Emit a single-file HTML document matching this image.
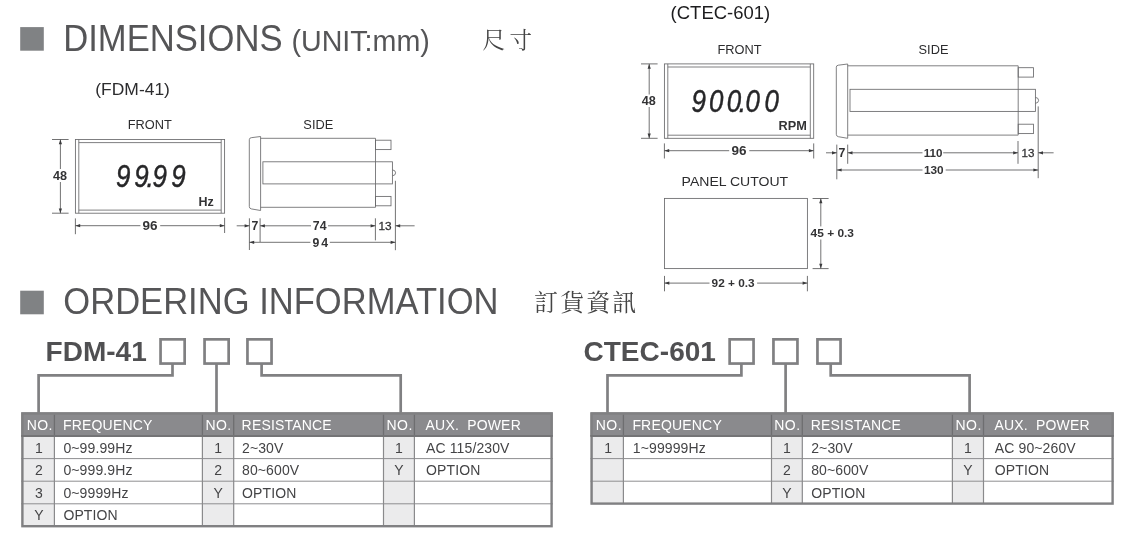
<!DOCTYPE html>
<html lang="zh-Hant"><head><meta charset="utf-8"><title>Dimensions / Ordering Information</title>
<style>
html,body{margin:0;padding:0;background:#fff;}
body{width:1137px;height:544px;overflow:hidden;position:relative;}
svg{position:absolute;left:0;top:0;display:block;font-family:"Liberation Sans", sans-serif;will-change:transform;}
</style></head><body>
<svg width="1137" height="544" viewBox="0 0 1137 544">
<rect x="20.2" y="27.1" width="23.6" height="23.6"  fill="#808284" />
<text x="63.2" y="50.6" font-size="36" fill="#555557" textLength="219.3" lengthAdjust="spacingAndGlyphs">DIMENSIONS</text>
<text x="291.4" y="50.5" font-size="29" fill="#555557" textLength="138.5" lengthAdjust="spacingAndGlyphs">(UNIT:mm)</text>
<text x="482.6" y="48" font-size="22.5" fill="#444" font-family='"Liberation Serif", "Noto Serif CJK SC", serif' letter-spacing="4.5">尺寸</text>
<rect x="20.2" y="290.7" width="23.6" height="23.6"  fill="#808284" />
<text x="63.3" y="313.8" font-size="36" fill="#555557" textLength="435.2" lengthAdjust="spacingAndGlyphs">ORDERING INFORMATION</text>
<text x="534" y="310.6" font-size="24" fill="#444" font-family='"Liberation Serif", "Noto Serif CJK SC", serif' letter-spacing="2.1">訂貨資訊</text>
<text x="95.3" y="95.4" font-size="16.3" fill="#2c2c2e" textLength="74.6" lengthAdjust="spacingAndGlyphs">(FDM-41)</text>
<text x="149.8" y="129" font-size="12.8" text-anchor="middle" fill="#2c2c2e">FRONT</text>
<text x="318.3" y="129" font-size="12.8" text-anchor="middle" fill="#2c2c2e">SIDE</text>
<rect x="75.4" y="139.5" width="149.2" height="73.7" stroke="#69696b" stroke-width="0.85" fill="none" />
<line x1="78.8" y1="139.5" x2="78.8" y2="213.2" stroke="#69696b" stroke-width="0.85" />
<line x1="221.2" y1="139.5" x2="221.2" y2="213.2" stroke="#69696b" stroke-width="0.85" />
<line x1="78.8" y1="142.6" x2="221.2" y2="142.6" stroke="#69696b" stroke-width="0.85" />
<line x1="78.8" y1="210.1" x2="221.2" y2="210.1" stroke="#69696b" stroke-width="0.85" />
<text transform="translate(116,187.2) scale(0.85,1)" x="0 21.53 36 43.06 65.06" y="0" font-size="30.5" font-style="italic" fill="#262628" stroke="#262628" stroke-width="0.45">99.99</text>
<text x="213.8" y="206.1" font-size="12.5" text-anchor="end" font-weight="bold" fill="#333335">Hz</text>
<line x1="52" y1="139.5" x2="68.6" y2="139.5" stroke="#58585a" stroke-width="0.85" />
<line x1="52" y1="213.2" x2="68.6" y2="213.2" stroke="#58585a" stroke-width="0.85" />
<line x1="60.4" y1="139.5" x2="60.4" y2="169" stroke="#58585a" stroke-width="0.85" />
<line x1="60.4" y1="182" x2="60.4" y2="213.2" stroke="#58585a" stroke-width="0.85" />
<polygon points="60.4,139.5 58.8,144.3 62,144.3" fill="#3a3a3c"/>
<polygon points="60.4,213.2 58.8,208.4 62,208.4" fill="#3a3a3c"/>
<text x="60.1" y="179.9" font-size="12.6" text-anchor="middle" font-weight="bold" fill="#333335">48</text>
<line x1="75.4" y1="218.4" x2="75.4" y2="234.2" stroke="#58585a" stroke-width="0.85" />
<line x1="224.6" y1="217.8" x2="224.6" y2="233" stroke="#58585a" stroke-width="0.85" />
<line x1="75.4" y1="225.7" x2="140.4" y2="225.7" stroke="#58585a" stroke-width="0.85" />
<line x1="160.2" y1="225.7" x2="224.6" y2="225.7" stroke="#58585a" stroke-width="0.85" />
<polygon points="75.4,225.7 80.2,224.1 80.2,227.3" fill="#3a3a3c"/>
<polygon points="224.6,225.7 219.8,224.1 219.8,227.3" fill="#3a3a3c"/>
<text x="150.1" y="230.4" font-size="13.5" text-anchor="middle" font-weight="bold" fill="#333335">96</text>
<path d="M251.3,137.7 L260.6,136.5 L260.6,210.5 L251.3,208.9 Q249.3,208.5 249.3,206.5 L249.3,139.7 Q249.3,137.9 251.3,137.7 Z" fill="none" stroke="#69696b" stroke-width="0.85"/>
<line x1="260.6" y1="138.3" x2="375.5" y2="138.3" stroke="#69696b" stroke-width="0.85" />
<line x1="260.6" y1="207.3" x2="375.5" y2="207.3" stroke="#69696b" stroke-width="0.85" />
<line x1="375.5" y1="138.3" x2="375.5" y2="207.3" stroke="#69696b" stroke-width="0.85" />
<rect x="375.5" y="140.2" width="15.5" height="9.4" stroke="#69696b" stroke-width="0.85" fill="none" />
<rect x="375.5" y="196.4" width="15.5" height="9.4" stroke="#69696b" stroke-width="0.85" fill="none" />
<rect x="262.9" y="161.8" width="129.5" height="22.1" stroke="#69696b" stroke-width="0.85" fill="none" />
<path d="M392.4,169.85 q3.2,0.4 3.2,3 q0,2.6 -3.2,3" fill="none" stroke="#69696b" stroke-width="0.85"/>
<line x1="395.4" y1="180.8" x2="395.4" y2="250.2" stroke="#58585a" stroke-width="0.85" />
<line x1="249.4" y1="218.3" x2="249.4" y2="250" stroke="#58585a" stroke-width="0.85" />
<line x1="260.1" y1="218.3" x2="260.1" y2="242" stroke="#58585a" stroke-width="0.85" />
<line x1="375.4" y1="218.3" x2="375.4" y2="240.4" stroke="#58585a" stroke-width="0.85" />
<line x1="236.7" y1="225.8" x2="249.4" y2="225.8" stroke="#58585a" stroke-width="0.85" />
<polygon points="249.4,225.8 244.6,224.2 244.6,227.4" fill="#3a3a3c"/>
<text x="254.9" y="229.6" font-size="12.3" text-anchor="middle" font-weight="bold" fill="#333335">7</text>
<line x1="260.1" y1="225.8" x2="311" y2="225.8" stroke="#58585a" stroke-width="0.85" />
<line x1="328" y1="225.8" x2="375.4" y2="225.8" stroke="#58585a" stroke-width="0.85" />
<polygon points="260.1,225.8 264.9,224.2 264.9,227.4" fill="#3a3a3c"/>
<polygon points="375.4,225.8 370.6,224.2 370.6,227.4" fill="#3a3a3c"/>
<text x="319.7" y="229.8" font-size="12.3" text-anchor="middle" font-weight="bold" fill="#333335">74</text>
<text x="385.1" y="230.1" font-size="11.8" text-anchor="middle" fill="#333335" stroke="#333335" stroke-width="0.3">13</text>
<line x1="395.4" y1="225.8" x2="414.6" y2="225.8" stroke="#58585a" stroke-width="0.85" />
<polygon points="395.4,225.8 400.2,224.2 400.2,227.4" fill="#3a3a3c"/>
<line x1="249.4" y1="242.3" x2="310.4" y2="242.3" stroke="#58585a" stroke-width="0.85" />
<line x1="329.8" y1="242.3" x2="395.4" y2="242.3" stroke="#58585a" stroke-width="0.85" />
<polygon points="249.4,242.3 254.2,240.7 254.2,243.9" fill="#3a3a3c"/>
<polygon points="395.4,242.3 390.6,240.7 390.6,243.9" fill="#3a3a3c"/>
<text x="321.3" y="246.8" font-size="12.3" text-anchor="middle" font-weight="bold" fill="#333335" letter-spacing="2">94</text>
<text x="670.6" y="19.1" font-size="18" fill="#1c1c1e" textLength="99.6" lengthAdjust="spacingAndGlyphs">(CTEC-601)</text>
<text x="739.5" y="53.7" font-size="12.8" text-anchor="middle" fill="#2c2c2e">FRONT</text>
<text x="933.5" y="53.7" font-size="12.8" text-anchor="middle" fill="#2c2c2e">SIDE</text>
<rect x="664.4" y="63.9" width="149.3" height="74.4" stroke="#69696b" stroke-width="0.85" fill="none" />
<line x1="667.8" y1="63.9" x2="667.8" y2="138.3" stroke="#69696b" stroke-width="0.85" />
<line x1="810.3" y1="63.9" x2="810.3" y2="138.3" stroke="#69696b" stroke-width="0.85" />
<line x1="667.8" y1="67" x2="810.3" y2="67" stroke="#69696b" stroke-width="0.85" />
<line x1="667.8" y1="135.2" x2="810.3" y2="135.2" stroke="#69696b" stroke-width="0.85" />
<text transform="translate(691.5,112.2) scale(0.85,1)" x="0 20.59 41.41 55.65 63.65 85.88" y="0" font-size="30.5" font-style="italic" fill="#262628" stroke="#262628" stroke-width="0.45">900.00</text>
<text x="806.9" y="129.7" font-size="12.5" text-anchor="end" font-weight="bold" fill="#333335" textLength="28.3" lengthAdjust="spacingAndGlyphs">RPM</text>
<line x1="641" y1="63.9" x2="657.6" y2="63.9" stroke="#58585a" stroke-width="0.85" />
<line x1="641" y1="138.3" x2="657.6" y2="138.3" stroke="#58585a" stroke-width="0.85" />
<line x1="649.2" y1="63.9" x2="649.2" y2="94.5" stroke="#58585a" stroke-width="0.85" />
<line x1="649.2" y1="107" x2="649.2" y2="138.3" stroke="#58585a" stroke-width="0.85" />
<polygon points="649.2,63.9 647.6,68.7 650.8,68.7" fill="#3a3a3c"/>
<polygon points="649.2,138.3 647.6,133.5 650.8,133.5" fill="#3a3a3c"/>
<text x="648.8" y="105.1" font-size="12.6" text-anchor="middle" font-weight="bold" fill="#333335">48</text>
<line x1="664.4" y1="143.4" x2="664.4" y2="158.5" stroke="#58585a" stroke-width="0.85" />
<line x1="813.7" y1="143.4" x2="813.7" y2="158.5" stroke="#58585a" stroke-width="0.85" />
<line x1="664.4" y1="150.7" x2="729.2" y2="150.7" stroke="#58585a" stroke-width="0.85" />
<line x1="749.3" y1="150.7" x2="813.7" y2="150.7" stroke="#58585a" stroke-width="0.85" />
<polygon points="664.4,150.7 669.2,149.1 669.2,152.3" fill="#3a3a3c"/>
<polygon points="813.7,150.7 808.9,149.1 808.9,152.3" fill="#3a3a3c"/>
<text x="739" y="155.4" font-size="13.5" text-anchor="middle" font-weight="bold" fill="#333335">96</text>
<path d="M838.3,65.2 L847.7,64 L847.7,138.3 L838.3,136.7 Q836.3,136.3 836.3,134.3 L836.3,67.2 Q836.3,65.4 838.3,65.2 Z" fill="none" stroke="#69696b" stroke-width="0.85"/>
<line x1="847.7" y1="65.8" x2="1018.2" y2="65.8" stroke="#69696b" stroke-width="0.85" />
<line x1="847.7" y1="135.1" x2="1018.2" y2="135.1" stroke="#69696b" stroke-width="0.85" />
<line x1="1018.2" y1="65.8" x2="1018.2" y2="135.1" stroke="#69696b" stroke-width="0.85" />
<rect x="1018.2" y="67.7" width="15.3" height="9.4" stroke="#69696b" stroke-width="0.85" fill="none" />
<rect x="1018.2" y="124.2" width="15.3" height="9.4" stroke="#69696b" stroke-width="0.85" fill="none" />
<rect x="850" y="89.3" width="185.4" height="22.1" stroke="#69696b" stroke-width="0.85" fill="none" />
<path d="M1035.4,97.35 q3.2,0.4 3.2,3 q0,2.6 -3.2,3" fill="none" stroke="#69696b" stroke-width="0.85"/>
<line x1="1038.2" y1="106.4" x2="1038.2" y2="178.2" stroke="#58585a" stroke-width="0.85" />
<line x1="836.8" y1="144.6" x2="836.8" y2="179.3" stroke="#58585a" stroke-width="0.85" />
<line x1="847.7" y1="144.6" x2="847.7" y2="163.8" stroke="#58585a" stroke-width="0.85" />
<line x1="1018" y1="141" x2="1018" y2="163.8" stroke="#58585a" stroke-width="0.85" />
<line x1="826" y1="152.8" x2="836.8" y2="152.8" stroke="#58585a" stroke-width="0.85" />
<polygon points="836.8,152.8 832,151.2 832,154.4" fill="#3a3a3c"/>
<text x="842" y="156.7" font-size="12.3" text-anchor="middle" font-weight="bold" fill="#333335">7</text>
<line x1="847.7" y1="152.8" x2="922.5" y2="152.8" stroke="#58585a" stroke-width="0.85" />
<line x1="943.2" y1="152.8" x2="1018" y2="152.8" stroke="#58585a" stroke-width="0.85" />
<polygon points="847.7,152.8 852.5,151.2 852.5,154.4" fill="#3a3a3c"/>
<polygon points="1018,152.8 1013.2,151.2 1013.2,154.4" fill="#3a3a3c"/>
<text x="933" y="156.7" font-size="11.6" text-anchor="middle" font-weight="bold" fill="#333335">110</text>
<text x="1028" y="156.7" font-size="11.6" text-anchor="middle" fill="#333335" stroke="#333335" stroke-width="0.3">13</text>
<line x1="1038.2" y1="152.8" x2="1053.6" y2="152.8" stroke="#58585a" stroke-width="0.85" />
<polygon points="1038.2,152.8 1043,151.2 1043,154.4" fill="#3a3a3c"/>
<line x1="836.8" y1="170" x2="922.5" y2="170" stroke="#58585a" stroke-width="0.85" />
<line x1="945.7" y1="170" x2="1038.2" y2="170" stroke="#58585a" stroke-width="0.85" />
<polygon points="836.8,170 841.6,168.4 841.6,171.6" fill="#3a3a3c"/>
<polygon points="1038.2,170 1033.4,168.4 1033.4,171.6" fill="#3a3a3c"/>
<text x="933.8" y="174.2" font-size="11.8" text-anchor="middle" font-weight="bold" fill="#333335">130</text>
<text x="734.9" y="186.3" font-size="13.2" text-anchor="middle" fill="#2c2c2e" textLength="106.6" lengthAdjust="spacingAndGlyphs">PANEL CUTOUT</text>
<rect x="664.5" y="198.4" width="142.9" height="70.2" stroke="#69696b" stroke-width="0.85" fill="none" />
<line x1="812.6" y1="198.5" x2="828.6" y2="198.5" stroke="#58585a" stroke-width="0.85" />
<line x1="812.6" y1="268.6" x2="828.6" y2="268.6" stroke="#58585a" stroke-width="0.85" />
<line x1="820.8" y1="198.5" x2="820.8" y2="226.4" stroke="#58585a" stroke-width="0.85" />
<line x1="820.8" y1="239.5" x2="820.8" y2="268.6" stroke="#58585a" stroke-width="0.85" />
<polygon points="820.8,198.5 819.2,203.3 822.4,203.3" fill="#3a3a3c"/>
<polygon points="820.8,268.6 819.2,263.8 822.4,263.8" fill="#3a3a3c"/>
<text x="810.6" y="237.1" font-size="11.8" font-weight="bold" fill="#333335" textLength="43.4" lengthAdjust="spacingAndGlyphs">45 + 0.3</text>
<line x1="664.5" y1="275.9" x2="664.5" y2="291.3" stroke="#58585a" stroke-width="0.85" />
<line x1="807.4" y1="275.9" x2="807.4" y2="291.3" stroke="#58585a" stroke-width="0.85" />
<line x1="664.5" y1="283.1" x2="709.5" y2="283.1" stroke="#58585a" stroke-width="0.85" />
<line x1="757.1" y1="283.1" x2="807.4" y2="283.1" stroke="#58585a" stroke-width="0.85" />
<polygon points="664.5,283.1 669.3,281.5 669.3,284.7" fill="#3a3a3c"/>
<polygon points="807.4,283.1 802.6,281.5 802.6,284.7" fill="#3a3a3c"/>
<text x="711.6" y="287.3" font-size="11.8" font-weight="bold" fill="#333335" textLength="43" lengthAdjust="spacingAndGlyphs">92 + 0.3</text>
<text x="45.6" y="361.1" font-size="28" font-weight="bold" fill="#505052" textLength="101.2" lengthAdjust="spacingAndGlyphs">FDM-41</text>
<rect x="160.55" y="339.35" width="24.1" height="24.2" stroke="#808082" stroke-width="2.7" fill="none" />
<rect x="204.55" y="339.35" width="24.1" height="24.2" stroke="#808082" stroke-width="2.7" fill="none" />
<rect x="247.45" y="339.35" width="24.1" height="24.2" stroke="#808082" stroke-width="2.7" fill="none" />
<polyline points="172.5,364 172.5,375.4 38.6,375.4 38.6,413.3" fill="none" stroke="#808082" stroke-width="2.7"/>
<polyline points="216.5,364 216.5,413.3" fill="none" stroke="#808082" stroke-width="2.7"/>
<polyline points="261.6,364 261.6,375.4 400.7,375.4 400.7,413.3" fill="none" stroke="#808082" stroke-width="2.7"/>
<rect x="21.2" y="412.3" width="531.6" height="23.7"  fill="#8a8a8d" />
<rect x="21.2" y="436" width="33.2" height="90.4"  fill="#ebebec" />
<rect x="202.4" y="436" width="31.3" height="90.4"  fill="#ebebec" />
<rect x="383.5" y="436" width="30.9" height="90.4"  fill="#ebebec" />
<line x1="21.2" y1="458.6" x2="552.8" y2="458.6" stroke="#8e8e90" stroke-width="1" />
<line x1="21.2" y1="481.2" x2="552.8" y2="481.2" stroke="#8e8e90" stroke-width="1" />
<line x1="21.2" y1="503.8" x2="552.8" y2="503.8" stroke="#8e8e90" stroke-width="1" />
<line x1="54.4" y1="436" x2="54.4" y2="525.9" stroke="#8a8a8c" stroke-width="1.2" />
<line x1="54.4" y1="414.3" x2="54.4" y2="436" stroke="#6e6e70" stroke-width="1.3" />
<line x1="202.4" y1="436" x2="202.4" y2="525.9" stroke="#8a8a8c" stroke-width="1.2" />
<line x1="202.4" y1="414.3" x2="202.4" y2="436" stroke="#6e6e70" stroke-width="1.3" />
<line x1="233.7" y1="436" x2="233.7" y2="525.9" stroke="#8a8a8c" stroke-width="1.2" />
<line x1="233.7" y1="414.3" x2="233.7" y2="436" stroke="#6e6e70" stroke-width="1.3" />
<line x1="383.5" y1="436" x2="383.5" y2="525.9" stroke="#8a8a8c" stroke-width="1.2" />
<line x1="383.5" y1="414.3" x2="383.5" y2="436" stroke="#6e6e70" stroke-width="1.3" />
<line x1="414.4" y1="436" x2="414.4" y2="525.9" stroke="#8a8a8c" stroke-width="1.2" />
<line x1="414.4" y1="414.3" x2="414.4" y2="436" stroke="#6e6e70" stroke-width="1.3" />
<rect x="22.4" y="413.5" width="529.2" height="112.7" stroke="#808082" stroke-width="2.4" fill="none" />
<line x1="21.2" y1="436" x2="552.8" y2="436" stroke="#747476" stroke-width="2" />
<text x="39.8" y="429.9" font-size="14" text-anchor="middle" fill="#fff" letter-spacing="0.45">NO.</text>
<text x="63" y="429.9" font-size="14" fill="#fff" xml:space="preserve" letter-spacing="0.18">FREQUENCY</text>
<text x="218.55" y="429.9" font-size="14" text-anchor="middle" fill="#fff" letter-spacing="0.45">NO.</text>
<text x="241.6" y="429.9" font-size="14" fill="#fff" xml:space="preserve" letter-spacing="0.18">RESISTANCE</text>
<text x="399.7" y="429.9" font-size="14" text-anchor="middle" fill="#fff" letter-spacing="0.45">NO.</text>
<text x="425.6" y="429.9" font-size="14" fill="#fff" xml:space="preserve" letter-spacing="0.18">AUX.  POWER</text>
<text x="39" y="452.6" font-size="14" text-anchor="middle" fill="#444446">1</text>
<text x="63.4" y="452.6" font-size="14" fill="#444446" letter-spacing="0.12">0~99.99Hz</text>
<text x="218.15" y="452.6" font-size="14" text-anchor="middle" fill="#444446">1</text>
<text x="242" y="452.6" font-size="14" fill="#444446" letter-spacing="0.12">2~30V</text>
<text x="398.85" y="452.6" font-size="14" text-anchor="middle" fill="#444446">1</text>
<text x="426" y="452.6" font-size="14" fill="#444446" letter-spacing="0.12">AC 115/230V</text>
<text x="39" y="475.2" font-size="14" text-anchor="middle" fill="#444446">2</text>
<text x="63.4" y="475.2" font-size="14" fill="#444446" letter-spacing="0.12">0~999.9Hz</text>
<text x="218.15" y="475.2" font-size="14" text-anchor="middle" fill="#444446">2</text>
<text x="242" y="475.2" font-size="14" fill="#444446" letter-spacing="0.12">80~600V</text>
<text x="398.85" y="475.2" font-size="14" text-anchor="middle" fill="#444446">Y</text>
<text x="426" y="475.2" font-size="14" fill="#444446" letter-spacing="0.12">OPTION</text>
<text x="39" y="497.8" font-size="14" text-anchor="middle" fill="#444446">3</text>
<text x="63.4" y="497.8" font-size="14" fill="#444446" letter-spacing="0.12">0~9999Hz</text>
<text x="218.15" y="497.8" font-size="14" text-anchor="middle" fill="#444446">Y</text>
<text x="242" y="497.8" font-size="14" fill="#444446" letter-spacing="0.12">OPTION</text>
<text x="39" y="520.4" font-size="14" text-anchor="middle" fill="#444446">Y</text>
<text x="63.4" y="520.4" font-size="14" fill="#444446" letter-spacing="0.12">OPTION</text>
<text x="583.5" y="361.1" font-size="28" font-weight="bold" fill="#505052" textLength="132.4" lengthAdjust="spacingAndGlyphs">CTEC-601</text>
<rect x="729.65" y="339.35" width="23.9" height="24.2" stroke="#808082" stroke-width="2.7" fill="none" />
<rect x="773.45" y="339.35" width="24" height="24.2" stroke="#808082" stroke-width="2.7" fill="none" />
<rect x="817.45" y="339.35" width="23.1" height="24.2" stroke="#808082" stroke-width="2.7" fill="none" />
<polyline points="741.4,364 741.4,375.4 607.5,375.4 607.5,413.3" fill="none" stroke="#808082" stroke-width="2.7"/>
<polyline points="785.6,364 785.6,413.3" fill="none" stroke="#808082" stroke-width="2.7"/>
<polyline points="830.7,364 830.7,375.4 969.6,375.4 969.6,413.3" fill="none" stroke="#808082" stroke-width="2.7"/>
<rect x="590.4" y="412.3" width="523.4" height="23.7"  fill="#8a8a8d" />
<rect x="590.4" y="436" width="33" height="67.8"  fill="#ebebec" />
<rect x="771.5" y="436" width="30.8" height="67.8"  fill="#ebebec" />
<rect x="952.4" y="436" width="31.1" height="67.8"  fill="#ebebec" />
<line x1="590.4" y1="458.6" x2="1113.8" y2="458.6" stroke="#8e8e90" stroke-width="1" />
<line x1="590.4" y1="481.2" x2="1113.8" y2="481.2" stroke="#8e8e90" stroke-width="1" />
<line x1="623.4" y1="436" x2="623.4" y2="503.3" stroke="#8a8a8c" stroke-width="1.2" />
<line x1="623.4" y1="414.3" x2="623.4" y2="436" stroke="#6e6e70" stroke-width="1.3" />
<line x1="771.5" y1="436" x2="771.5" y2="503.3" stroke="#8a8a8c" stroke-width="1.2" />
<line x1="771.5" y1="414.3" x2="771.5" y2="436" stroke="#6e6e70" stroke-width="1.3" />
<line x1="802.3" y1="436" x2="802.3" y2="503.3" stroke="#8a8a8c" stroke-width="1.2" />
<line x1="802.3" y1="414.3" x2="802.3" y2="436" stroke="#6e6e70" stroke-width="1.3" />
<line x1="952.4" y1="436" x2="952.4" y2="503.3" stroke="#8a8a8c" stroke-width="1.2" />
<line x1="952.4" y1="414.3" x2="952.4" y2="436" stroke="#6e6e70" stroke-width="1.3" />
<line x1="983.5" y1="436" x2="983.5" y2="503.3" stroke="#8a8a8c" stroke-width="1.2" />
<line x1="983.5" y1="414.3" x2="983.5" y2="436" stroke="#6e6e70" stroke-width="1.3" />
<rect x="591.6" y="413.5" width="521" height="90.1" stroke="#808082" stroke-width="2.4" fill="none" />
<line x1="590.4" y1="436" x2="1113.8" y2="436" stroke="#747476" stroke-width="2" />
<text x="608.9" y="429.9" font-size="14" text-anchor="middle" fill="#fff" letter-spacing="0.45">NO.</text>
<text x="632.4" y="429.9" font-size="14" fill="#fff" xml:space="preserve" letter-spacing="0.18">FREQUENCY</text>
<text x="787.4" y="429.9" font-size="14" text-anchor="middle" fill="#fff" letter-spacing="0.45">NO.</text>
<text x="810.8" y="429.9" font-size="14" fill="#fff" xml:space="preserve" letter-spacing="0.18">RESISTANCE</text>
<text x="968.7" y="429.9" font-size="14" text-anchor="middle" fill="#fff" letter-spacing="0.45">NO.</text>
<text x="994.4" y="429.9" font-size="14" fill="#fff" xml:space="preserve" letter-spacing="0.18">AUX.  POWER</text>
<text x="608.1" y="452.6" font-size="14" text-anchor="middle" fill="#444446">1</text>
<text x="632.8" y="452.6" font-size="14" fill="#444446" letter-spacing="0.12">1~99999Hz</text>
<text x="787" y="452.6" font-size="14" text-anchor="middle" fill="#444446">1</text>
<text x="811.2" y="452.6" font-size="14" fill="#444446" letter-spacing="0.12">2~30V</text>
<text x="967.85" y="452.6" font-size="14" text-anchor="middle" fill="#444446">1</text>
<text x="994.8" y="452.6" font-size="14" fill="#444446" letter-spacing="0.12">AC 90~260V</text>
<text x="787" y="475.2" font-size="14" text-anchor="middle" fill="#444446">2</text>
<text x="811.2" y="475.2" font-size="14" fill="#444446" letter-spacing="0.12">80~600V</text>
<text x="967.85" y="475.2" font-size="14" text-anchor="middle" fill="#444446">Y</text>
<text x="994.8" y="475.2" font-size="14" fill="#444446" letter-spacing="0.12">OPTION</text>
<text x="787" y="497.8" font-size="14" text-anchor="middle" fill="#444446">Y</text>
<text x="811.2" y="497.8" font-size="14" fill="#444446" letter-spacing="0.12">OPTION</text>
</svg></body></html>
